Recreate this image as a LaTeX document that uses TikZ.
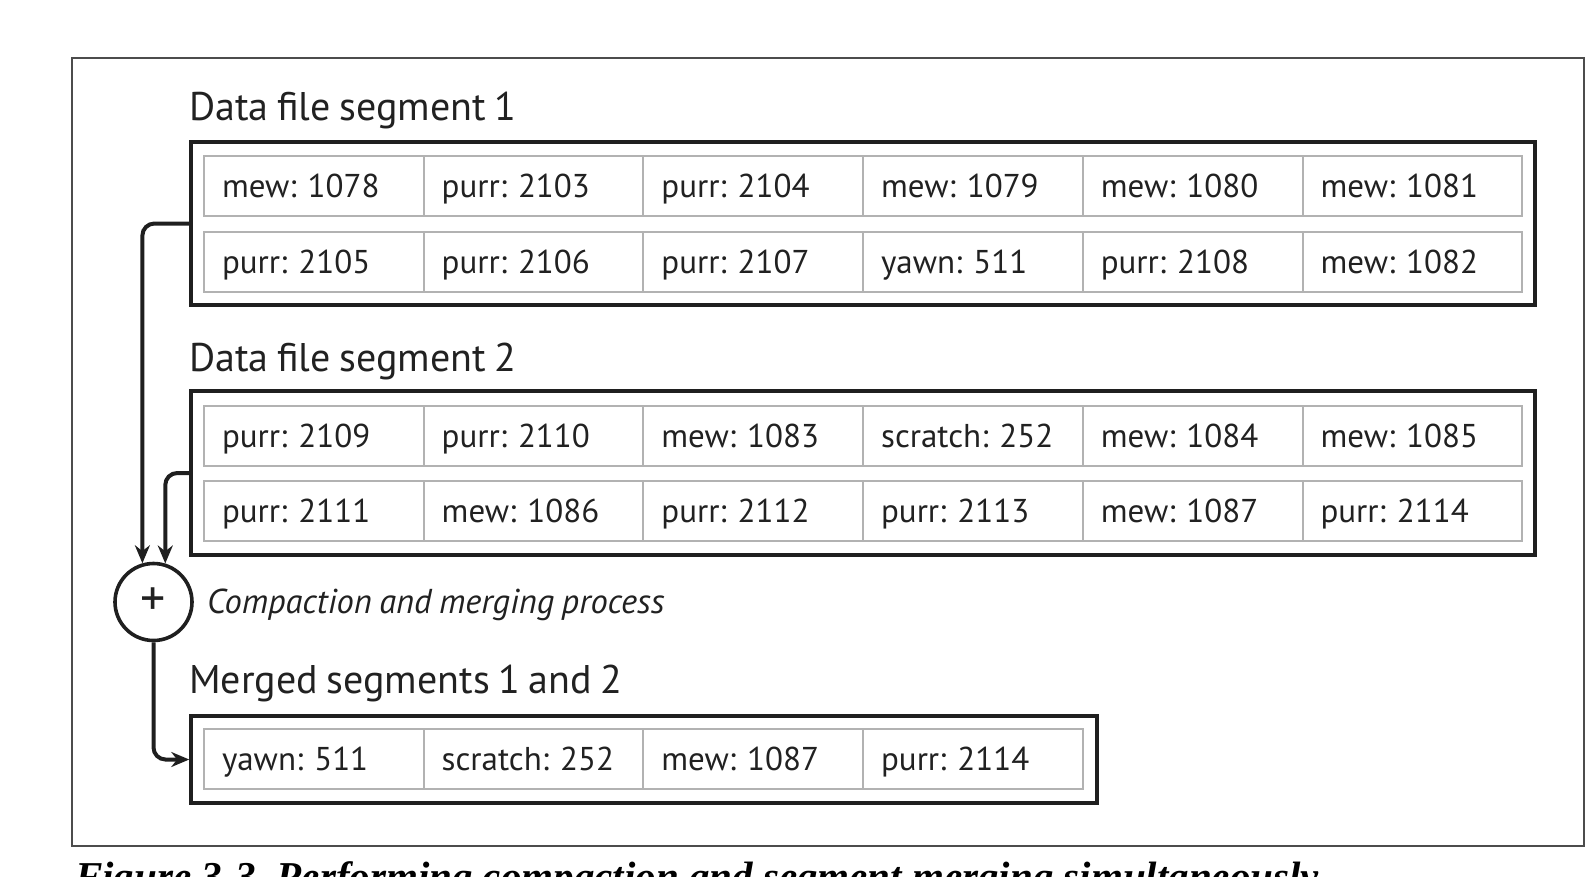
\documentclass[tikz,border=0pt]{standalone}
\usepackage{fontspec}
\setmainfont{PT Sans}[WordSpace=0.8]
\newfontfamily\capfont{Liberation Serif}
\usepackage{tikz}
\usetikzlibrary{arrows.meta}
\tikzset{
	cell/.style={draw=black!30, line width=2pt, minimum width=219.7pt, minimum height=60pt, text width=183.7pt, inner xsep=18pt, align=left, text height=27pt, text depth=4pt, font=\fontsize{33}{40}\selectfont, text=black!87},
	segbox/.style={draw=black!88, line width=3.5pt, inner sep=0pt},
	heading/.style={anchor=base west, inner sep=0pt, font=\fontsize{40}{48}\selectfont, text=black!87},
	flow/.style={-{Stealth[length=18pt, width=15pt]}, line width=4pt, rounded corners=12pt, color=black!88}
}
\def\entry(#1)(#2, #3)#4{\node[cell] (#1) at (#2, #3) {#4};}
\frenchspacing

\begin{document}
\begin{tikzpicture}[x=1pt, y=-1pt]
			%%%%% START %%%%%
			\useasboundingbox (0, 0) rectangle (1594, 876);
			\clip (0, 0) rectangle (1594, 876);
			
			\draw[line width=1.5pt, color=black!70] (72, 58) rectangle (1584, 846);
			
			% segment 1
			\node[heading] (head1) at (189, 120) {Data file segment 1};
			\node[segbox, minimum width=1344pt, minimum height=163pt] (seg1) at (863, 223.5) {};
			\entry(a1)(313.85, 186){mew: 1078}
			\entry(a2)(533.55, 186){purr: 2103}
			\entry(a3)(753.25, 186){purr: 2104}
			\entry(a4)(972.95, 186){mew: 1079}
			\entry(a5)(1192.65, 186){mew: 1080}
			\entry(a6)(1412.35, 186){mew: 1081}
			\entry(a7)(313.85, 261.5){purr: 2105}
			\entry(a8)(533.55, 261.5){purr: 2106}
			\entry(a9)(753.25, 261.5){purr: 2107}
			\entry(a10)(972.95, 261.5){yawn: 511}
			\entry(a11)(1192.65, 261.5){purr: 2108}
			\entry(a12)(1412.35, 261.5){mew: 1082}
			
			% segment 2
			\node[heading] (head2) at (189, 371) {Data file segment 2};
			\node[segbox, minimum width=1344pt, minimum height=164pt] (seg2) at (863, 473) {};
			\entry(b1)(313.85, 435.5){purr: 2109}
			\entry(b2)(533.55, 435.5){purr: 2110}
			\entry(b3)(753.25, 435.5){mew: 1083}
			\entry(b4)(972.95, 435.5){scratch: 252}
			\entry(b5)(1192.65, 435.5){mew: 1084}
			\entry(b6)(1412.35, 435.5){mew: 1085}
			\entry(b7)(313.85, 510.5){purr: 2111}
			\entry(b8)(533.55, 510.5){mew: 1086}
			\entry(b9)(753.25, 510.5){purr: 2112}
			\entry(b10)(972.95, 510.5){purr: 2113}
			\entry(b11)(1192.65, 510.5){mew: 1087}
			\entry(b12)(1412.35, 510.5){purr: 2114}
			
			% merging
			\node[draw=black!88, circle, line width=3.6pt, minimum size=77pt, inner sep=0pt, font=\fontsize{50}{50}\selectfont, text=black!87] (merge) at (153.5, 602) {+};
			\node[anchor=base west, inner sep=0pt, font=\itshape\fontsize{34.5}{40}\selectfont, text=black!87] (note) at (207, 613) {Compaction and merging process};
			
			% merged segment
			\node[heading] (head3) at (189, 693) {Merged segments 1 and 2};
			\node[segbox, minimum width=906pt, minimum height=87pt] (merged) at (644, 759.5) {};
			\entry(m1)(313.85, 759){yawn: 511}
			\entry(m2)(533.55, 759){scratch: 252}
			\entry(m3)(753.25, 759){mew: 1087}
			\entry(m4)(972.95, 759){purr: 2114}
			
			\draw[flow] (seg1.west) -| (merge.106);
			\draw[flow] (seg2.west) -| (merge.73);
			\draw[flow] (merge.south) |- (merged.west);
			
			\node[anchor=base west, inner sep=0pt, font=\capfont\bfseries\itshape\fontsize{41}{46}\selectfont] (caption) at (75, 890) {Figure 3-3. Performing compaction and segment merging simultaneously};
			%%%%% END %%%%%
\end{tikzpicture}
\end{document}
